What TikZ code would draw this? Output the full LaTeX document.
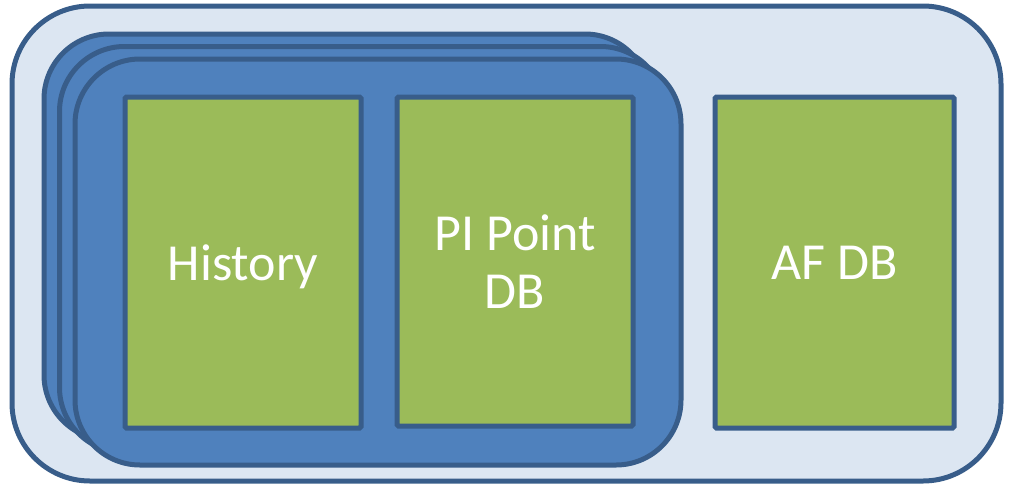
\documentclass[tikz,border=0pt]{standalone}
\usepackage{fontspec}
\setmainfont{Carlito}
\definecolor{frameblue}{HTML}{385D8A}
\definecolor{paleblue}{HTML}{DCE6F2}
\definecolor{midblue}{HTML}{4F81BD}
\definecolor{leafgreen}{HTML}{9BBB59}
\tikzset{
  serverbox/.style={draw=frameblue,line width=5pt,fill=midblue,rounded corners=65pt,
                    minimum width=606pt,minimum height=406pt,inner sep=0pt},
  storebox/.style={draw=frameblue,line width=5pt,fill=leafgreen,rounded corners=1.5pt,
                   minimum width=236pt,minimum height=331pt,inner sep=0pt,align=center,
                   text=white,text depth=0pt,font=\fontsize{52}{58}\selectfont},
}
\begin{document}
\begin{tikzpicture}[x=1pt,y=-1pt]
    \useasboundingbox (0,0) rectangle (1009,490);
    \node[draw=frameblue,line width=5pt,fill=paleblue,rounded corners=78pt,
          minimum width=989pt,minimum height=475pt,inner sep=0pt]
      (farm) at (506.5,243.5) {};
    \node[serverbox] (backlayer) at (347,237) {};
    \node[serverbox] (midlayer) at (362.5,249.5) {};
    \node[serverbox] (frontlayer) at (378,262) {};
    \node[storebox] (history) at (243,262.5) {History};
    \node[storebox,minimum height=329pt] (pointdb) at (515,261.5) {PI Point\\DB};
    \node[storebox,minimum width=239pt] (afdb) at (834.5,262.5) {AF DB};
  \end{tikzpicture}
\end{document}
